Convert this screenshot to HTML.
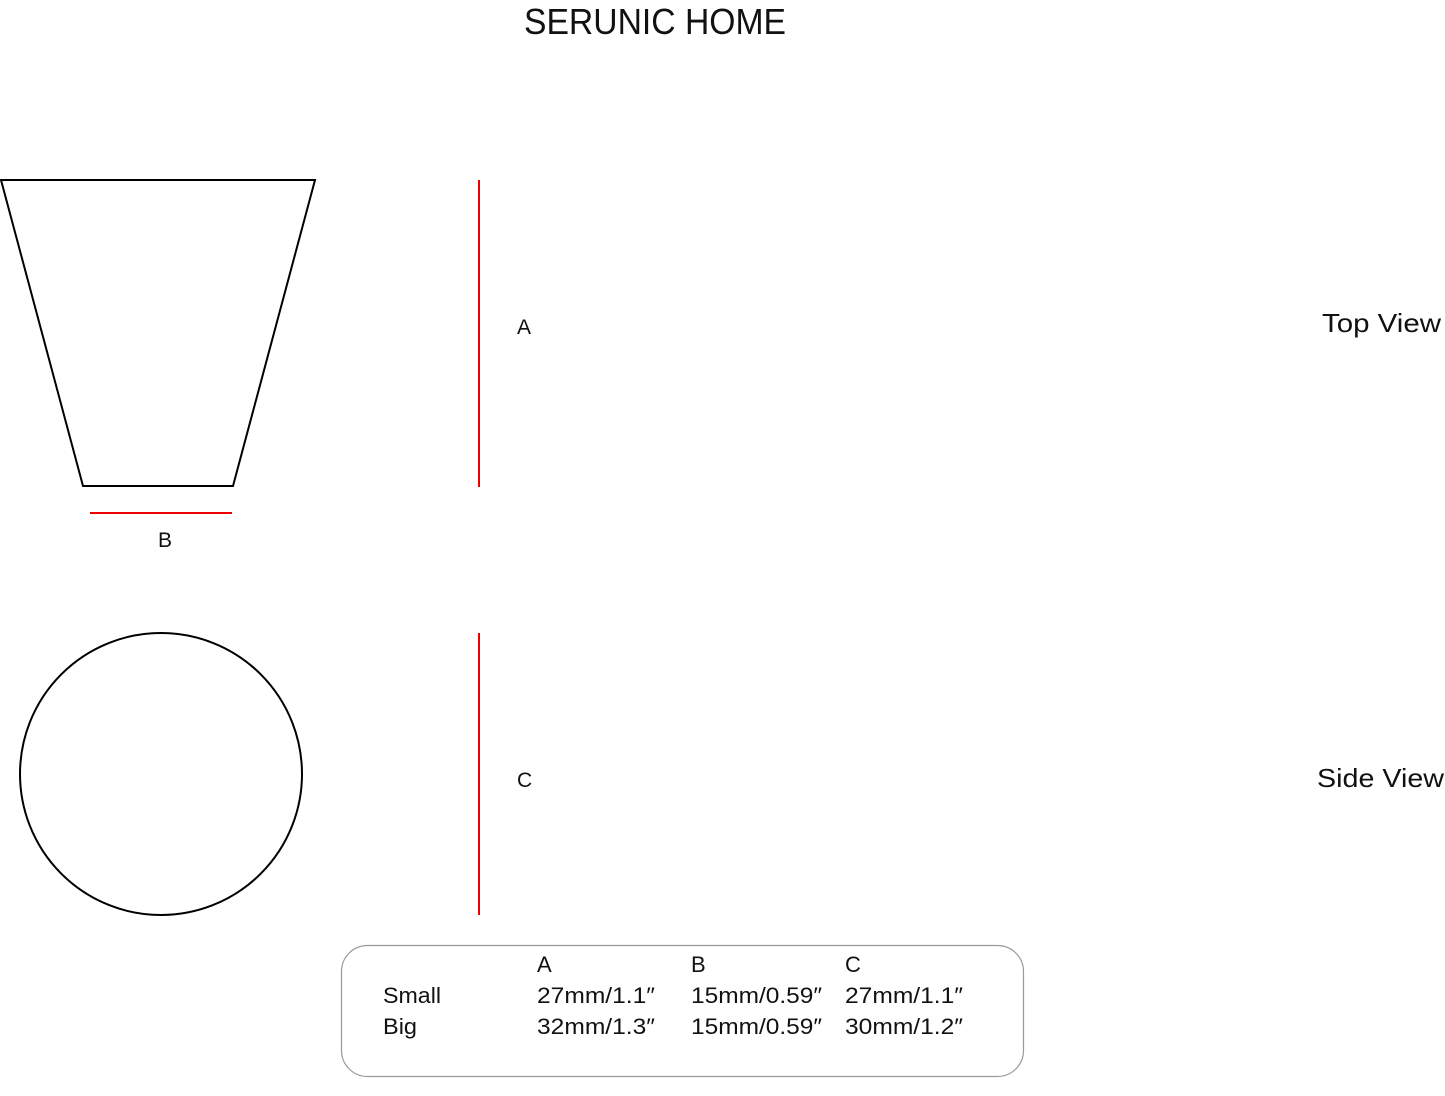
<!DOCTYPE html>
<html><head><style>html,body{margin:0;padding:0;background:#fff;}svg{display:block}</style></head>
<body>
<svg width="1445" height="1096" viewBox="0 0 1445 1096" xmlns="http://www.w3.org/2000/svg" font-family="Liberation Sans, sans-serif" fill="#111">
<text x="524" y="34" font-size="36" textLength="262" lengthAdjust="spacingAndGlyphs">SERUNIC HOME</text>
<polygon points="1,180 315,180 233,486 83,486" fill="none" stroke="#000" stroke-width="2"/>
<line x1="479" y1="180" x2="479" y2="487" stroke="#e00" stroke-width="2"/>
<line x1="90" y1="513" x2="232" y2="513" stroke="#e00" stroke-width="2"/>
<text x="517" y="334" font-size="21">A</text>
<text x="158" y="547" font-size="21">B</text>
<text x="1322" y="332" font-size="26" textLength="119" lengthAdjust="spacingAndGlyphs">Top View</text>
<circle cx="161" cy="774" r="141" fill="none" stroke="#000" stroke-width="2"/>
<line x1="479" y1="633" x2="479" y2="915" stroke="#e00" stroke-width="2"/>
<text x="517" y="787" font-size="21">C</text>
<text x="1317" y="787" font-size="26" textLength="127" lengthAdjust="spacingAndGlyphs">Side View</text>
<rect x="341.5" y="945.5" width="682" height="131" rx="26" fill="none" stroke="#999" stroke-width="1.2"/>
<g font-size="22">
<text x="537" y="972">A</text><text x="691" y="972">B</text><text x="845" y="972">C</text>
<text x="383" y="1003" textLength="58" lengthAdjust="spacingAndGlyphs">Small</text>
<text x="537" y="1003" textLength="118" lengthAdjust="spacingAndGlyphs">27mm/1.1″</text>
<text x="691" y="1003" textLength="131" lengthAdjust="spacingAndGlyphs">15mm/0.59″</text>
<text x="845" y="1003" textLength="118" lengthAdjust="spacingAndGlyphs">27mm/1.1″</text>
<text x="383" y="1034" textLength="34" lengthAdjust="spacingAndGlyphs">Big</text>
<text x="537" y="1034" textLength="118" lengthAdjust="spacingAndGlyphs">32mm/1.3″</text>
<text x="691" y="1034" textLength="131" lengthAdjust="spacingAndGlyphs">15mm/0.59″</text>
<text x="845" y="1034" textLength="118" lengthAdjust="spacingAndGlyphs">30mm/1.2″</text>
</g>
</svg>
</body></html>
